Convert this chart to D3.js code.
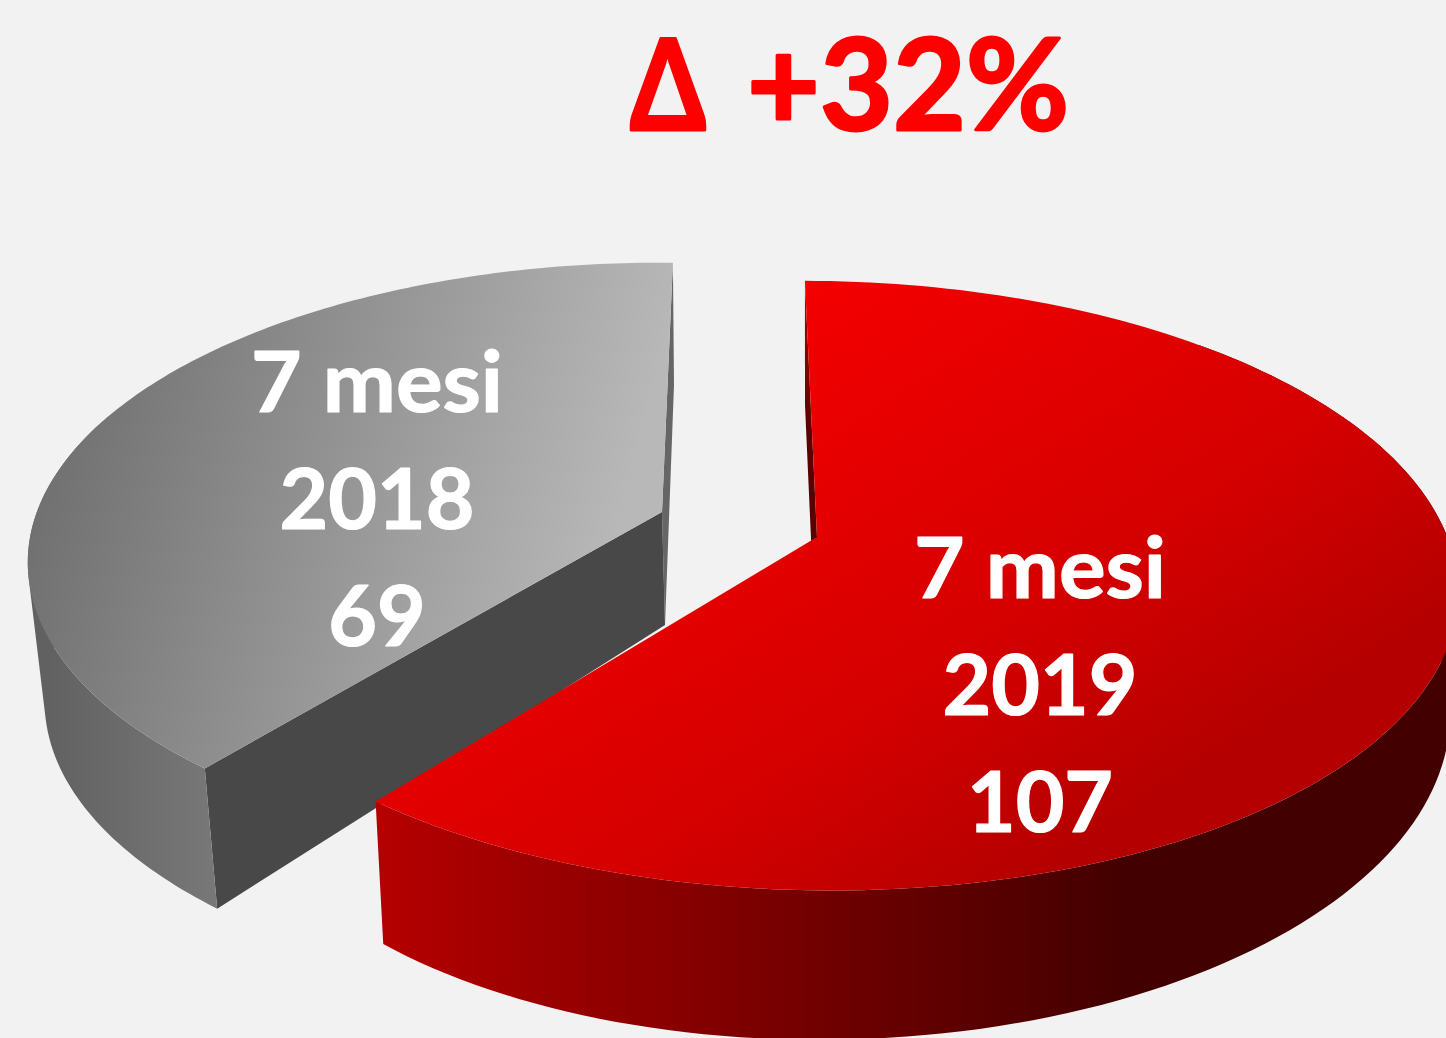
<!DOCTYPE html>
<html><head><meta charset="utf-8">
<script src="https://cdn.jsdelivr.net/npm/d3@7"></script>
<style>html,body{margin:0;padding:0;background:#f2f2f2;overflow:hidden}svg{display:block}</style>
</head><body><svg id="c" width="1446" height="1038"></svg>
<script>
const titleSymbol = "Δ";
const titleChange = "+32%";
const periods = ["7 mesi", "7 mesi"];
const years = ["2019", "2018"];
const values = [107, 69];

// Perspective of each exploded slice: top plane and bottom plane of the extruded wedge.
const views = [
  { top: {ox:817,oy:537,a:632.2,b:297.05,s:14.02,t:.21,p:.1596,q:-.0028},
    bot: {ox:816,oy:650,a:598.5,b:300.04,s:18.41,t:-18.92,p:.2299,q:.0218},
    botApex:[816,650], botFar:[805,405], rimFrom:.2, rimTo:1,
    face:"url(#redTop)", rim:"url(#redRim)", far:"url(#redFar)", cut:null, lx:1040, ly:598 },
  { top: {ox:662,oy:512,a:617.64,b:289.16,s:-12.64,t:3.62,p:.1601,q:-.0098},
    bot: {ox:668,oy:654,a:613.92,b:293.4,s:-16.26,t:5.92,p:.1514,q:.0007},
    botApex:[665,625], botFar:[674,385], rimFrom:0, rimTo:.5,
    face:"url(#greyTop)", rim:"url(#greyRim)", far:"#666666", cut:"#484848", lx:377, ly:412 }
];

const svg = d3.select("#c");
const defs = svg.append("defs");
function grad(id,x1,y1,x2,y2,stops){
  const g = defs.append("linearGradient").attr("id",id).attr("gradientUnits","userSpaceOnUse")
    .attr("x1",x1).attr("y1",y1).attr("x2",x2).attr("y2",y2);
  stops.forEach(s=>g.append("stop").attr("offset",s[0]).attr("stop-color",s[1]));
}
grad("redTop",806,282,1146,811,[[0,"#f40000"],[.64,"#d40000"],[1,"#b40000"]]);
grad("redRim",381,0,1130,0,[[0,"#b40000"],[1,"#420000"]]);
grad("redFar",0,300,0,640,[[0,"#b00000"],[.4,"#5a0000"],[1,"#5c0000"]]);
grad("greyTop",30,450,600,600,[[0,"#6e6e6e"],[1,"#b8b8b8"]]);
grad("greyRim",46,0,217,0,[[0,"#616161"],[1,"#787878"]]);

function project(m,u,v){
  const w = 1 - m.p*v - m.q*u;
  return [m.ox + (m.a*u + m.s*v)/w, m.oy + (m.b*v + m.t*u)/w];
}
const onPlane = (m,ang)=>project(m,Math.sin(ang),-Math.cos(ang));
const apex = m=>[m.ox,m.oy];
const closed = d3.line().curve(d3.curveLinearClosed);

const arcs = d3.pie().value(d=>d).sort(null)(values);

[1,0].forEach(i=>{
  const s = arcs[i], vw = views[i];
  const n = 160;
  const ang = d3.scaleLinear().domain([0,n]).range([s.startAngle,s.endAngle]);
  const steps = d3.range(n+1).map(ang);
  const g = svg.append("g");
  const farAng = i===0 ? s.startAngle : s.endAngle;
  g.append("path").attr("fill",vw.far)
    .attr("d",closed([onPlane(vw.top,farAng),apex(vw.top),vw.botApex,vw.botFar]));
  if(vw.cut){
    g.append("path").attr("fill",vw.cut)
      .attr("d",closed([apex(vw.top),onPlane(vw.top,s.startAngle),onPlane(vw.bot,s.startAngle),vw.botApex]));
  }
  let d = "";
  d3.range(Math.round(n*vw.rimFrom),Math.round(n*vw.rimTo)).forEach(k=>{
    let q = [onPlane(vw.top,steps[k]),onPlane(vw.top,steps[k+1]),onPlane(vw.bot,steps[k+1]),onPlane(vw.bot,steps[k])];
    if(d3.polygonArea(q)<0) q = q.reverse();
    d += closed(q);
  });
  g.append("path").attr("fill",vw.rim).attr("fill-rule","nonzero").attr("d",d);
  g.append("path").attr("fill",vw.face)
    .attr("d",closed([apex(vw.top)].concat(steps.map(a=>onPlane(vw.top,a)))));
});

const font = "Lato, Carlito, sans-serif";
function label(x,y,t,size,fill,sw){
  return svg.append("text").attr("x",x).attr("y",y).attr("fill",fill)
    .attr("stroke",fill).attr("stroke-width",sw).attr("stroke-linejoin","round")
    .attr("font-family",font).attr("font-weight",700).attr("font-size",size).text(t);
}
views.forEach((vw,i)=>{
  [periods[i],years[i],String(values[i])].forEach((t,k)=>{
    const el = label(vw.lx,vw.ly+k*117,t,84,"#ffffff",1.2).attr("text-anchor","middle");
    if(k===0) el.attr("textLength",252).attr("lengthAdjust","spacingAndGlyphs");
  });
});
label(630,130,titleSymbol,126,"#ff0000",3).attr("textLength",76).attr("lengthAdjust","spacingAndGlyphs");
label(747,130,titleChange,126,"#ff0000",3).attr("textLength",322).attr("lengthAdjust","spacingAndGlyphs");
</script></body></html>
